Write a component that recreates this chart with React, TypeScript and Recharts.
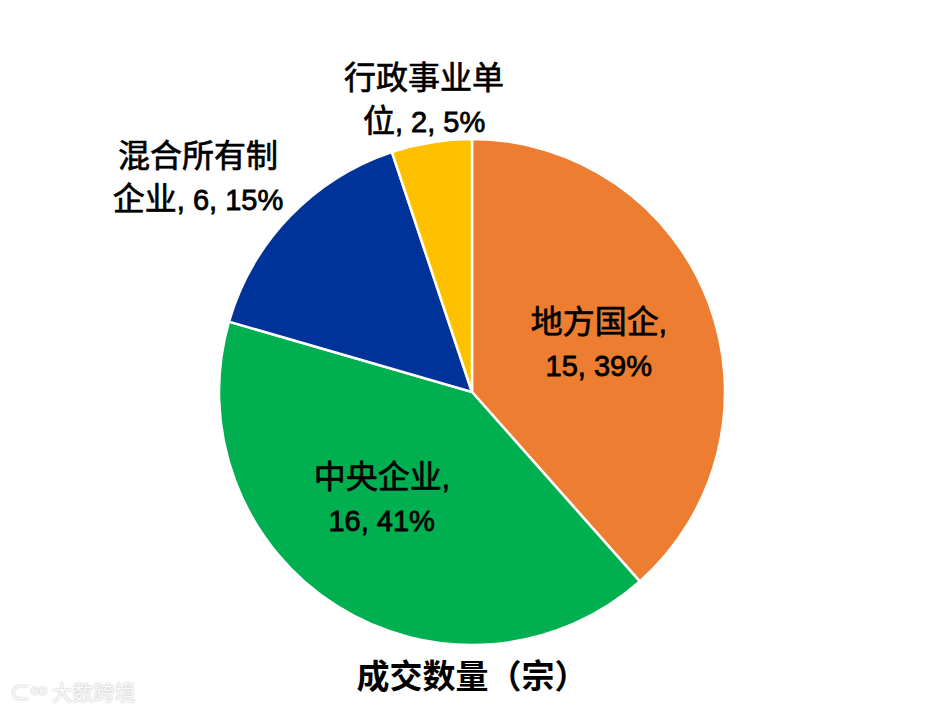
import { PieChart, Pie, Cell } from "recharts"

const categories = ["地方国企", "中央企业", "混合所有制企业", "行政事业单位"]
const counts = [15, 16, 6, 2]
const percents = ["39%", "41%", "15%", "5%"]
const colors = ["#ED7D31", "#00B050", "#003399", "#FFC000"]

// label text split over two lines, as in the original
const labelLines = [
  ["地方国企,", "15, 39%"],
  ["中央企业,", "16, 41%"],
  ["混合所有制", "企业, 6, 15%"],
  ["行政事业单", "位, 2, 5%"],
]
// distance of each label from the centre (share of radius) and a small angle nudge
const labelRadius = [0.54, 0.543, 1.381, 1.18]
const labelShift = [1.1, -8.8, 5.5, 0]

const data = categories.map((name, i) => ({ name, value: counts[i], pct: percents[i] }))

const RAD = Math.PI / 180
const latin = '"Liberation Sans", Arial, sans-serif'
const cjk = '"Noto Sans CJK SC", sans-serif'

// CJK glyphs are set a bit larger than the digits, like the source font
function runs(s: string) {
  const out: { t: string; c: boolean }[] = []
  for (const ch of s) {
    const c = /[\u3000-\u9fff\uff00-\uffef]/.test(ch)
    const last = out[out.length - 1]
    if (last && last.c === c) last.t += ch
    else out.push({ t: ch, c })
  }
  return out
}

function Line({ text, x, dy }: { text: string; x: number; dy: number }) {
  const parts = runs(text)
  return (
    <>
      {parts.map((p, i) => (
        <tspan
          key={i}
          x={i === 0 ? x : undefined}
          dy={i === 0 ? dy : undefined}
          fontFamily={p.c ? cjk : latin}
          fontSize={p.c ? 32 : 29}
          strokeWidth={p.c ? 0.7 : 0.8}
        >
          {p.t}
        </tspan>
      ))}
    </>
  )
}

function renderLabel(props: any) {
  const { cx, cy, midAngle, outerRadius, index } = props
  const r = outerRadius * labelRadius[index]
  const a = midAngle + labelShift[index]
  const x = cx + r * Math.cos(-a * RAD)
  const y = cy + r * Math.sin(-a * RAD)
  const lines = labelLines[index]
  return (
    <text x={x} y={y} textAnchor="middle" fill="#000" stroke="#000">
      <Line text={lines[0]} x={x} dy={-8} />
      <Line text={lines[1]} x={x} dy={43} />
    </text>
  )
}

export default function App() {
  return (
    <div style={{ position: "absolute", left: 0, top: 0, width: 944, height: 709, background: "#fff" }}>
      <PieChart width={944} height={709} margin={{ top: 0, right: 0, bottom: 0, left: 0 }}>
        <Pie
          data={data}
          dataKey="value"
          cx={472}
          cy={392}
          outerRadius={253}
          startAngle={90}
          endAngle={-270}
          stroke="#fff"
          strokeWidth={2.5}
          label={renderLabel}
          labelLine={false}
          isAnimationActive={false}
        >
          {data.map((d, i) => (
            <Cell key={d.name} fill={colors[i]} />
          ))}
        </Pie>
      </PieChart>
      <div
        style={{
          position: "absolute",
          left: 0,
          width: 944,
          top: 650,
          textAlign: "center",
          fontFamily: latin + ", " + cjk,
          fontWeight: "bold",
          fontSize: 33,
          color: "#000",
        }}
      >
        成交数量（宗）
      </div>
      <div
        style={{
          position: "absolute",
          left: 10,
          top: 676,
          fontFamily: cjk,
          fontSize: 21,
          color: "#fafafa",
          textShadow: "0 0 2px #aaa",
        }}
      >
        ⊂ᵒᵒ 大数跨境
      </div>
    </div>
  )
}
